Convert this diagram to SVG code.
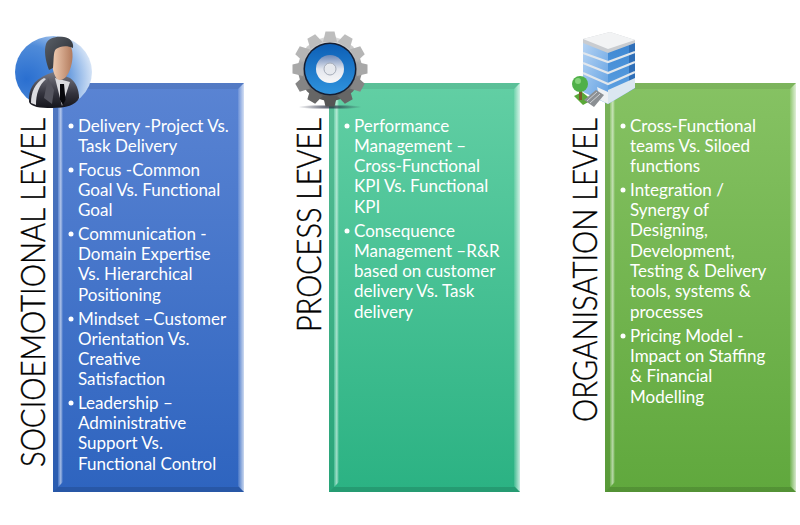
<svg xmlns="http://www.w3.org/2000/svg" width="800" height="525" viewBox="0 0 800 525">
<style>
.t{font-family:Lato,"Liberation Sans",sans-serif;font-size:17px;fill:#fff}
.h{font-family:Lato,"Liberation Sans",sans-serif;font-size:33px;font-weight:300;fill:#000;stroke:#000;stroke-width:.4px}
.d{fill:#fff}
</style>
<defs>
<linearGradient id="b" x1="0" y1="0" x2="0" y2="1"><stop offset="0" stop-color="#5a84d3"/><stop offset="1" stop-color="#2e64bf"/></linearGradient>
<linearGradient id="g" x1="0" y1="0" x2="0" y2="1"><stop offset="0" stop-color="#62cfa4"/><stop offset="1" stop-color="#2bb283"/></linearGradient>
<linearGradient id="o" x1="0" y1="0" x2="0" y2="1"><stop offset="0" stop-color="#86c263"/><stop offset="1" stop-color="#60a83d"/></linearGradient>
<linearGradient id="lb"><stop offset="0" stop-color="#fff" stop-opacity=".1"/><stop offset=".55" stop-color="#fff" stop-opacity=".55"/><stop offset="1" stop-color="#fff" stop-opacity="0"/></linearGradient>
<linearGradient id="rb"><stop offset="0" stop-color="#fff" stop-opacity=".1"/><stop offset="1" stop-color="#fff" stop-opacity=".75"/></linearGradient>
<g id="bevel">
<path d="M0 0H191L185 6H6Z" fill="#000" opacity=".07"/>
<path d="M0 0L5 5V404L0 409Z" fill="#000" opacity=".08"/>
<path d="M5 5H10V399L5 404Z" fill="url(#lb)"/>
<path d="M191 0V409L185 403V6Z" fill="url(#rb)"/>
<path d="M0 409H191L186 404H5Z" fill="#000" opacity=".13"/>
</g>
<radialGradient id="av" cx=".15" cy=".6" r=".95"><stop offset="0" stop-color="#2a6fd0"/><stop offset=".5" stop-color="#4f8bd9"/><stop offset="1" stop-color="#f4f8fd"/></radialGradient>
<linearGradient id="skin" x1="0" y1="0" x2="1" y2="0"><stop offset="0" stop-color="#f4d3ba"/><stop offset="1" stop-color="#b27a5c"/></linearGradient>
<linearGradient id="suit" x1="0" y1="0" x2="0" y2="1"><stop offset="0" stop-color="#7a7a84"/><stop offset=".6" stop-color="#33333d"/><stop offset="1" stop-color="#15151b"/></linearGradient>
<linearGradient id="hair" x1="0" y1="0" x2="1" y2="1"><stop offset="0" stop-color="#5a6068"/><stop offset="1" stop-color="#24262c"/></linearGradient>
<linearGradient id="gear" x1="0" y1="0" x2="0" y2="1"><stop offset="0" stop-color="#dcdcdc"/><stop offset=".5" stop-color="#a0a0a0"/><stop offset="1" stop-color="#4e4e4e"/></linearGradient>
<linearGradient id="disc" x1="0" y1="0" x2="0" y2="1"><stop offset="0" stop-color="#0d5fb6"/><stop offset="1" stop-color="#2f93dd"/></linearGradient>
<linearGradient id="hub" x1="0" y1="0" x2="0" y2="1"><stop offset="0" stop-color="#6c88b8"/><stop offset=".5" stop-color="#e2e6ee"/><stop offset="1" stop-color="#f7f7f7"/></linearGradient>
<radialGradient id="sh"><stop offset="0" stop-color="#1c2238" stop-opacity=".85"/><stop offset="1" stop-color="#1c2238" stop-opacity="0"/></radialGradient>
<linearGradient id="bl" x1="0" y1="0" x2="1" y2="1"><stop offset="0" stop-color="#b5d3f3"/><stop offset="1" stop-color="#5f9fe2"/></linearGradient>
<linearGradient id="br" x1="0" y1="0" x2="0" y2="1"><stop offset="0" stop-color="#3d86d2"/><stop offset="1" stop-color="#63a6e4"/></linearGradient>
<path id="tooth" d="M323 42L325.500 31.500H334.500L337 42Z"/>
</defs>

<g id="panel-socioemotional">
<rect x="53" y="83" width="191" height="409" fill="url(#b)"/>
<use href="#bevel" x="53" y="83"/>
<text class="h" transform="translate(45,467) rotate(-90)" textLength="349" lengthAdjust="spacingAndGlyphs">SOCIOEMOTIONAL LEVEL</text>
<circle class="d" cx="71" cy="126" r="2.500"/><text class="t" x="78" y="132">Delivery -Project Vs.</text>
<text class="t" x="78" y="152">Task Delivery</text>
<circle class="d" cx="71" cy="170" r="2.500"/><text class="t" x="78" y="176">Focus -Common</text>
<text class="t" x="78" y="196">Goal Vs. Functional</text>
<text class="t" x="78" y="216">Goal</text>
<circle class="d" cx="71" cy="234" r="2.500"/><text class="t" x="78" y="240">Communication -</text>
<text class="t" x="78" y="260">Domain Expertise</text>
<text class="t" x="78" y="280">Vs. Hierarchical</text>
<text class="t" x="78" y="301">Positioning</text>
<circle class="d" cx="71" cy="319" r="2.500"/><text class="t" x="78" y="325">Mindset –Customer</text>
<text class="t" x="78" y="345">Orientation Vs.</text>
<text class="t" x="78" y="365">Creative</text>
<text class="t" x="78" y="385">Satisfaction</text>
<circle class="d" cx="71" cy="403" r="2.500"/><text class="t" x="78" y="409">Leadership –</text>
<text class="t" x="78" y="429">Administrative</text>
<text class="t" x="78" y="449">Support Vs.</text>
<text class="t" x="78" y="470">Functional Control</text>
</g>

<g id="panel-process">
<rect x="329" y="83" width="191" height="409" fill="url(#g)"/>
<use href="#bevel" x="329" y="83"/>
<text class="h" transform="translate(321,332) rotate(-90)" textLength="214" lengthAdjust="spacingAndGlyphs">PROCESS LEVEL</text>
<circle class="d" cx="347" cy="126" r="2.500"/><text class="t" x="354" y="132">Performance</text>
<text class="t" x="354" y="152">Management –</text>
<text class="t" x="354" y="172">Cross-Functional</text>
<text class="t" x="354" y="192">KPI Vs. Functional</text>
<text class="t" x="354" y="213">KPI</text>
<circle class="d" cx="347" cy="231" r="2.500"/><text class="t" x="354" y="237">Consequence</text>
<text class="t" x="354" y="257">Management –R&amp;R</text>
<text class="t" x="354" y="277">based on customer</text>
<text class="t" x="354" y="297">delivery Vs. Task</text>
<text class="t" x="354" y="318">delivery</text>
</g>

<g id="panel-organisation">
<rect x="605" y="83" width="191" height="409" fill="url(#o)"/>
<use href="#bevel" x="605" y="83"/>
<text class="h" transform="translate(597,422) rotate(-90)" textLength="304" lengthAdjust="spacingAndGlyphs">ORGANISATION LEVEL</text>
<circle class="d" cx="623" cy="126" r="2.500"/><text class="t" x="630" y="132">Cross-Functional</text>
<text class="t" x="630" y="152">teams Vs. Siloed</text>
<text class="t" x="630" y="172">functions</text>
<circle class="d" cx="623" cy="190" r="2.500"/><text class="t" x="630" y="196">Integration /</text>
<text class="t" x="630" y="216">Synergy of</text>
<text class="t" x="630" y="236">Designing,</text>
<text class="t" x="630" y="257">Development,</text>
<text class="t" x="630" y="277">Testing &amp; Delivery</text>
<text class="t" x="630" y="297">tools, systems &amp;</text>
<text class="t" x="630" y="318">processes</text>
<circle class="d" cx="623" cy="336" r="2.500"/><text class="t" x="630" y="342">Pricing Model -</text>
<text class="t" x="630" y="362">Impact on Staffing</text>
<text class="t" x="630" y="382">&amp; Financial</text>
<text class="t" x="630" y="403">Modelling</text>
</g>

<g id="icon-person">
<ellipse cx="53.500" cy="72" rx="38.500" ry="36" fill="url(#av)"/>
<path d="M29 102C28 90 33 80 48 74L54 72L70 78C76 82 79 90 79 98C76 105 66 108 52 108C40 108 31 107 29 102Z" fill="url(#suit)"/>
<path d="M31 103C31 92 35 83 44 78L46 79C39 85 36 94 36 105Z" fill="#dcdce0"/>
<path d="M48 78L54 90L52 104L44 98Z" fill="#55555f"/>
<path d="M55 78L70 82L62 106Z" fill="#dadade"/>
<path d="M60 84L64 84L65.500 100L63 105L60 100Z" fill="#08080c"/>
<path d="M51 56C50 47 55 42 62 42C70 42 73 48 72.500 57C72 68 67 80 60 80C54 80 52 66 51 56Z" fill="url(#skin)"/>
<path d="M49 70C45 60 44 50 46 44C48 38 56 36 64 37C70 38 74 42 73 48C67 45 60 46 56 49C53 52 54 60 53 68Z" fill="url(#hair)"/>
</g>

<g id="icon-gear">
<ellipse cx="330" cy="107" rx="32" ry="2.500" fill="url(#sh)"/>
<g fill="url(#gear)"><circle cx="330" cy="69" r="32"/></g>
<use href="#tooth" fill="#bdbdbd"/>
<use href="#tooth" fill="#bdbdbd" transform="rotate(30 330 69)"/>
<use href="#tooth" fill="#b5b5b5" transform="rotate(60 330 69)"/>
<use href="#tooth" fill="#a8a8a8" transform="rotate(90 330 69)"/>
<use href="#tooth" fill="#858585" transform="rotate(120 330 69)"/>
<use href="#tooth" fill="#666" transform="rotate(150 330 69)"/>
<use href="#tooth" fill="#555" transform="rotate(180 330 69)"/>
<use href="#tooth" fill="#666" transform="rotate(210 330 69)"/>
<use href="#tooth" fill="#858585" transform="rotate(240 330 69)"/>
<use href="#tooth" fill="#a8a8a8" transform="rotate(270 330 69)"/>
<use href="#tooth" fill="#b5b5b5" transform="rotate(300 330 69)"/>
<use href="#tooth" fill="#bdbdbd" transform="rotate(330 330 69)"/>
<circle cx="330" cy="69" r="26.500" fill="#141e33"/>
<circle cx="330" cy="69" r="25" fill="url(#disc)"/>
<circle cx="330" cy="69" r="14" fill="url(#hub)"/>
<circle cx="330" cy="69" r="6" fill="#e6e9ee" stroke="#a5acb8"/>
</g>

<g id="icon-building">
<path d="M583 42L608 52V104L583 92Z" fill="url(#bl)"/>
<path d="M608 52L635 42V88L608 104Z" fill="url(#br)"/>
<path d="M629 44.200L635 42V88L629 91.500Z" fill="#2f6fb8"/>
<path d="M583 39L610 32L635 40V43L608 53L583 43Z" fill="#c9ccd0"/>
<path d="M583 39L610 32L635 40L608 49Z" fill="#f2f3f4"/>
<path d="M583 53L608 62L635 52M583 63L608 73L635 62M583 73L608 84L635 72" fill="none" stroke="#e2e7ec" stroke-width="2.200"/>
<path d="M597 87L608 92V104L600 100Z" fill="#eef1f4"/>
<path d="M608 90L635 78V88L608 104Z" fill="#dbe7f1"/>
<path d="M574 96L582 92L592 100L583 105Z" fill="#5aa838"/>
<path d="M584 100L596 90L604 95L594 107Z" fill="#8b8f93"/>
<path d="M587 101L597 92M590 103L600 94" stroke="#cfd2d5" fill="none"/>
<rect x="579" y="88" width="3" height="12" fill="#7a5a2a"/>
<circle cx="580" cy="84" r="8" fill="#4fb048"/>
<circle cx="578" cy="81" r="3" fill="#84d27a"/>
</g>
</svg>
